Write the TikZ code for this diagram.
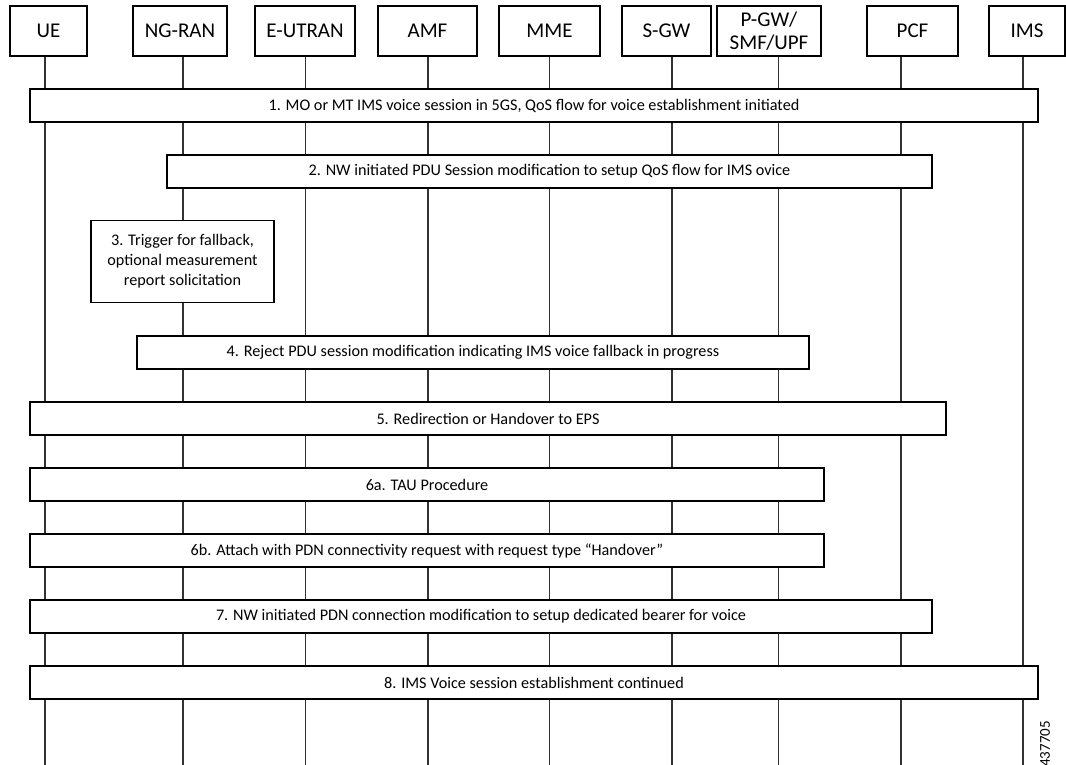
\documentclass[tikz,border=0pt]{standalone}
\usepackage{fontspec}
\setmainfont{Carlito}
\begin{document}
\begin{tikzpicture}[x=1pt,y=-1pt,
		hdr/.style={draw=black, line width=1.2pt, fill=white, minimum height=50pt, inner sep=0pt, align=center, font=\fontsize{21}{22.5}\selectfont},
		msg/.style={draw=black, line width=1.2pt, fill=white, minimum height=33pt, inner sep=0pt, align=center, font=\fontsize{16.2}{20}\selectfont},
		life/.style={draw=black!80, line width=1.2pt}]
		\useasboundingbox (0,0) rectangle (1066,765);
		% participants
		\node [hdr, minimum width=77pt] (ue) at (48.5,31) {UE};
		\node [hdr, minimum width=94pt] (ngran) at (180,31) {NG-RAN};
		\node [hdr, minimum width=100pt] (eutran) at (305,31) {E-UTRAN};
		\node [hdr, minimum width=99pt] (amf) at (427.5,31) {AMF};
		\node [hdr, minimum width=101pt] (mme) at (549.5,31) {MME};
		\node [hdr, minimum width=89pt] (sgw) at (666.5,31) {S-GW};
		\node [hdr, minimum width=104pt] (pgw) at (769,31) {P-GW/\\SMF/UPF};
		\node [hdr, minimum width=91pt] (pcf) at (912.5,31) {PCF};
		\node [hdr, minimum width=76pt] (ims) at (1027,31) {IMS};
		\coordinate (bot) at (0,765);
		% lifelines
		\foreach \n/\x in {ue/45, ngran/183, eutran/305.5, amf/428, mme/549.5, sgw/672, pgw/778.5, pcf/901, ims/1023}
			\draw [life] (\n.south -| \x,0) -- (bot -| \x,0);
		% steps
		\node [msg, minimum width=1008pt] (s1) at (534,105.5) {1. MO or MT IMS voice session in 5GS, QoS flow for voice establishment initiated};
		\node [msg, minimum width=765pt] (s2) at (549.5,171.5) {2. NW initiated PDU Session modification to setup QoS flow for IMS ovice};
		\node [msg, minimum width=183pt, minimum height=82pt] (s3) at (182.5,261.5) {3. Trigger for fallback,\\optional measurement\\report solicitation};
		\node [msg, minimum width=672pt] (s4) at (473,352.5) {4. Reject PDU session modification indicating IMS voice fallback in progress};
		\node [msg, minimum width=916pt] (s5) at (488,418.5) {5. Redirection or Handover to EPS};
		\node [msg, minimum width=794pt] (s6a) at (427,484.5) {6a. TAU Procedure};
		\node [msg, minimum width=794pt] (s6b) at (427,550.5) {6b. Attach with PDN connectivity request with request type “Handover”};
		\node [msg, minimum width=902pt] (s7) at (481,616.5) {7. NW initiated PDN connection modification to setup dedicated bearer for voice};
		\node [msg, minimum width=1008pt] (s8) at (534,682.5) {8. IMS Voice session establishment continued};
		\node [rotate=90, font=\fontsize{15}{17}\selectfont] (fig) at (1045,744) {437705};
	\end{tikzpicture}
\end{document}
